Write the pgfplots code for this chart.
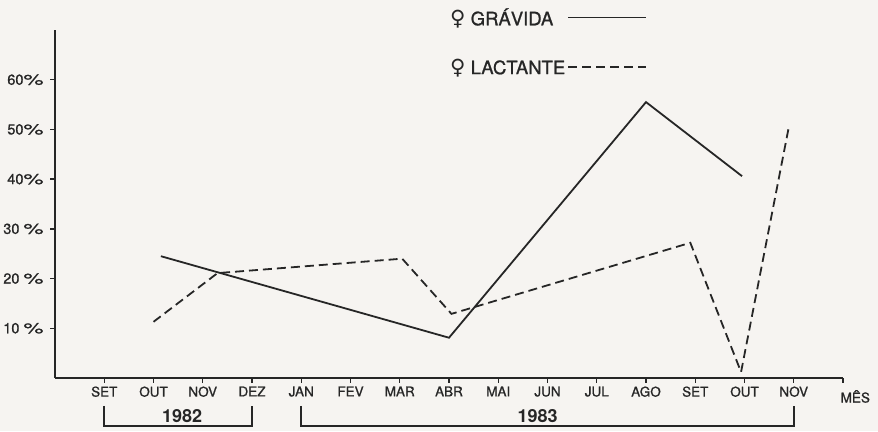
\documentclass[border=0pt]{standalone}
\usepackage{fontspec}
\setmainfont{TeX Gyre Heros}
\newfontfamily\lab{TeX Gyre Heros}[FakeBold=1]
\newfontfamily\symfont{DejaVu Sans}
\usepackage{graphicx}
\usepackage{pgfplots}
\pgfplotsset{compat=1.18}
\definecolor{bg}{RGB}{246,244,241}
\definecolor{ink}{RGB}{38,38,38}
\newcommand{\pc}{\scalebox{1.55}[1]{\%}}
\begin{document}
\begin{tikzpicture}
\fill[bg] (0pt,0pt) rectangle (878pt,431pt);
\path[use as bounding box] (0pt,0pt) rectangle (878pt,431pt);
\begin{axis}[
  at={(55pt,53pt)}, anchor=south west,
  scale only axis, width=788pt, height=348pt,
  xmin=0, xmax=16, ymin=0, ymax=70,
  axis x line*=bottom, axis y line*=left,
  axis line style={-, line width=1.9pt, ink},
  xtick={1,...,16},
  xticklabels={SET,OUT,NOV,DEZ,JAN,FEV,MAR,ABR,MAI,JUN,JUL,AGO,SET,OUT,NOV,{}},
  ytick={10,20,...,60},
  yticklabels={10 \pc,20 \pc,30 \pc,40\pc,50\pc,60\pc},
  tick align=outside, major tick length=5pt,
  tick style={line width=1.3pt, ink},
  xticklabel style={font=\lab\fontsize{13.5}{16}\selectfont, text=ink},
  yticklabel style={font=\lab\fontsize{14.5}{16}\selectfont, text=ink, xshift=-3pt},
  clip=false,
  legend plot pos=right,
  legend cell align=left,
  legend image code/.code={\draw[#1] (0pt,0pt) -- (78pt,0pt);},
  legend style={draw=none, fill=none, at={(axis cs:7.98,74.8)}, anchor=north west,
    inner sep=0pt, row sep=28pt, text=ink,
    font=\lab\fontsize{18.5}{20}\selectfont},
]
\addplot[ink, line width=1.8pt] coordinates {
  (2.15,24.5) (8.0,8.1) (12.0,55.5) (13.95,40.6)
};
\addlegendentry{{\symfont\fontsize{21}{20}\selectfont ♀} GRÁVIDA}
\addplot[ink, line width=1.8pt, dash pattern=on 9pt off 5pt] coordinates {
  (2.0,11.3) (3.3,21.1) (7.05,24.0) (8.05,12.9) (12.9,27.2) (13.93,1.2) (14.9,50.5)
};
\addlegendentry{{\symfont\fontsize{21}{20}\selectfont ♀} LACTANTE}
\node[anchor=north, font=\lab\fontsize{13.5}{16}\selectfont, text=ink, inner sep=0pt] at (axis cs:16.25,-2.4) {MÊS};
% year brackets
\draw[ink, line width=1.6pt] (axis cs:1,-5.6) -- (axis cs:1,-9.6) -- (axis cs:4,-9.6) -- (axis cs:4,-5.6);
\draw[ink, line width=1.6pt] (axis cs:5,-5.6) -- (axis cs:5,-9.6) -- (axis cs:15,-9.6) -- (axis cs:15,-5.6);
\node[font=\bfseries\fontsize{18}{20}\selectfont, text=ink] at (axis cs:2.58,-7.6) {1982};
\node[font=\bfseries\fontsize{18}{20}\selectfont, text=ink] at (axis cs:9.8,-7.6) {1983};
\end{axis}
\end{tikzpicture}
\end{document}
